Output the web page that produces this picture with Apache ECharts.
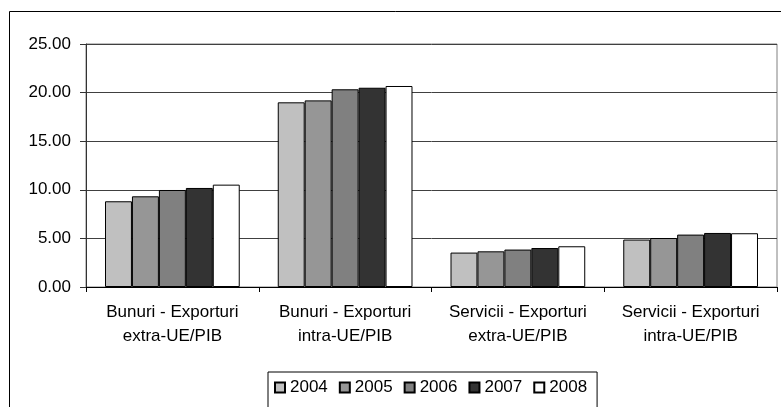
<!DOCTYPE html>
<html>
<head>
<meta charset="utf-8">
<script src="https://cdn.jsdelivr.net/npm/echarts@6/dist/echarts.min.js"></script>
<style>
  html, body { margin: 0; padding: 0; background: #fff; }
  #chart { width: 781px; height: 407px; }
</style>
</head>
<body>
<div id="chart"></div>
<script>
// categorii si valori (% din PIB)
const categories = [
  "Bunuri - Exporturi\nextra-UE/PIB",
  "Bunuri - Exporturi\nintra-UE/PIB",
  "Servicii - Exporturi\nextra-UE/PIB",
  "Servicii - Exporturi\nintra-UE/PIB"
];
const years = ["2004", "2005", "2006", "2007", "2008"];
const v2004 = [8.82, 19.00, 3.54, 4.88];
const v2005 = [9.33, 19.20, 3.67, 5.04];
const v2006 = [9.98, 20.34, 3.85, 5.39];
const v2007 = [10.19, 20.50, 4.01, 5.56];
const v2008 = [10.53, 20.68, 4.19, 5.53];
const values = [v2004, v2005, v2006, v2007, v2008];
const colors = ["#c0c0c0", "#969696", "#808080", "#333333", "#ffffff"];

const font = "Liberation Sans, Arial, sans-serif";
const chart = echarts.init(document.getElementById("chart"));

const option = {
  animation: false,
  textStyle: { fontFamily: font },
  grid: {
    left: 86, right: 4, top: 44, bottom: 120,
    show: true, borderColor: "#808080", borderWidth: 1
  },
  legend: {
    data: years,
    left: 268, top: 372,
    orient: "horizontal",
    itemWidth: 10, itemHeight: 10, itemGap: 11,
    padding: [7, 10, 12, 6],
    borderColor: "#000", borderWidth: 1,
    icon: "rect",
    textStyle: { fontSize: 17, color: "#000", fontFamily: font }
  },
  xAxis: {
    type: "category",
    data: categories,
    axisLine: { lineStyle: { color: "#000" } },
    axisTick: { show: true, length: 5, interval: 0, lineStyle: { color: "#000" } },
    axisLabel: {
      interval: 0, margin: 13, fontSize: 17, lineHeight: 24,
      color: "#000", fontFamily: font, align: "center"
    }
  },
  yAxis: {
    type: "value",
    min: 0, max: 25, interval: 5,
    axisLine: { show: true, lineStyle: { color: "#333" } },
    axisTick: { show: true, length: 6, lineStyle: { color: "#333" } },
    axisLabel: {
      margin: 15, fontSize: 17, color: "#000", fontFamily: font,
      formatter: (v) => v.toFixed(2)
    },
    splitLine: { lineStyle: { color: "#404040", width: 1 } }
  },
  series: years.map((y, i) => ({
    name: y,
    type: "bar",
    data: values[i],
    barGap: "0%",
    barCategoryGap: "22%",
    itemStyle: { color: colors[i], borderColor: "#000", borderWidth: 1 }
  })),
  graphic: [{
    type: "rect",
    shape: { x: 9.5, y: 11.5, width: 820, height: 420 },
    style: { fill: null, stroke: "#000", lineWidth: 1 },
    silent: true,
    z: 100
  }]
};

chart.setOption(option);
</script>
</body>
</html>
